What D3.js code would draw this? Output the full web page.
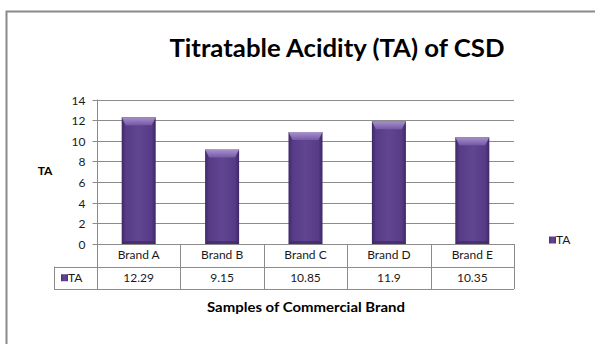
<!DOCTYPE html>
<html>
<head>
<meta charset="utf-8">
<script src="https://cdn.jsdelivr.net/npm/d3@7"></script>
<style>
  html, body { margin: 0; padding: 0; background: #fff; }
  svg { display: block; font-family: Lato, "Open Sans", "Liberation Sans", sans-serif; }
</style>
</head>
<body>
<svg id="chart" width="595" height="344"></svg>
<script>
// Titratable acidity per brand
const brands = ["Brand A", "Brand B", "Brand C", "Brand D", "Brand E"];
const taValues = [12.29, 9.15, 10.85, 11.9, 10.35];
const seriesName = "TA";
const yTicks = [0, 2, 4, 6, 8, 10, 12, 14];

const svg = d3.select("#chart");
const W = 595, H = 344;

// layout
const plot = { left: 97, right: 514, top: 99.5, bottom: 244 };
const rowH = 22.5;
const keyLeft = 54;
const gridColor = "#8c8c8c";
const textColor = "#1a1a1a";

// chart frame (extends past the visible area right and bottom)
svg.append("rect")
  .attr("x", 6.5).attr("y", 11.5)
  .attr("width", W + 20).attr("height", H + 20)
  .attr("fill", "none").attr("stroke", "#8a8a8a").attr("stroke-width", 2);

const x = d3.scaleBand().domain(brands).range([plot.left, plot.right]).paddingInner(0).paddingOuter(0);
const y = d3.scaleLinear().domain([0, 14]).range([plot.bottom, plot.top]);

// gradients for bars
const defs = svg.append("defs");
const g1 = defs.append("linearGradient").attr("id", "barBody").attr("x1", "0").attr("x2", "1").attr("y1", "0").attr("y2", "0");
g1.append("stop").attr("offset", "0").attr("stop-color", "#3e2866");
g1.append("stop").attr("offset", "0.12").attr("stop-color", "#573b86");
g1.append("stop").attr("offset", "0.5").attr("stop-color", "#604592");
g1.append("stop").attr("offset", "0.88").attr("stop-color", "#573b86");
g1.append("stop").attr("offset", "1").attr("stop-color", "#3e2866");
const g2 = defs.append("linearGradient").attr("id", "barTop").attr("x1", "0").attr("x2", "0").attr("y1", "0").attr("y2", "1");
g2.append("stop").attr("offset", "0").attr("stop-color", "#a892cc");
g2.append("stop").attr("offset", "1").attr("stop-color", "#7559a6");

// gridlines
svg.append("g").selectAll("line").data(yTicks).join("line")
  .attr("x1", plot.left).attr("x2", plot.right)
  .attr("y1", d => Math.round(y(d)) + 0.5).attr("y2", d => Math.round(y(d)) + 0.5)
  .attr("stroke", gridColor).attr("stroke-width", 1);

// y axis
const yAxis = d3.axisLeft(y).tickValues(yTicks).tickSize(5).tickPadding(7).tickFormat(d3.format("d"));
const ya = svg.append("g").attr("transform", `translate(${plot.left + 0.5},0)`).call(yAxis);
ya.select(".domain").attr("stroke", gridColor).attr("d", `M0,${plot.top}V${plot.bottom + 2 * rowH}`);
ya.selectAll(".tick line").attr("stroke", gridColor);
ya.selectAll(".tick").attr("transform", d => `translate(0,${Math.round(y(d)) + 0.5})`);
ya.selectAll("text").attr("font-size", 12).attr("fill", textColor).attr("dy", "0.35em")
  .style("font-family", "Lato, 'Open Sans', sans-serif");

// bars with bevelled top
const bw = 34;
const bev = 8;
const bars = svg.append("g").selectAll("g").data(brands).join("g");
bars.append("rect")
  .attr("x", d => x(d) + x.bandwidth() / 2 - bw / 2)
  .attr("y", (d, i) => y(taValues[i]))
  .attr("width", bw)
  .attr("height", (d, i) => y(0) - y(taValues[i]))
  .attr("fill", "url(#barBody)");
bars.append("path")
  .attr("d", (d, i) => {
    const l = x(d) + x.bandwidth() / 2 - bw / 2, r = l + bw, t = y(taValues[i]);
    return `M${l},${t}L${r},${t}L${r - 4},${t + bev}L${l + 4},${t + bev}Z`;
  })
  .attr("fill", "url(#barTop)");
bars.append("path")
  .attr("d", (d, i) => {
    const l = x(d) + x.bandwidth() / 2 - bw / 2, r = l + bw, b = y(0);
    return `M${l},${b}L${r},${b}L${r - 3},${b - 3}L${l + 3},${b - 3}Z`;
  })
  .attr("fill", "#3a2560").attr("opacity", 0.6);

// data table under the axis
const table = svg.append("g");
const tTop = plot.bottom;
[[plot.left, tTop], [keyLeft, tTop + rowH], [keyLeft, tTop + 2 * rowH]].forEach(([x0, yy]) => {
  table.append("line").attr("x1", x0).attr("x2", plot.right)
    .attr("y1", Math.round(yy) + 0.5).attr("y2", Math.round(yy) + 0.5)
    .attr("stroke", gridColor);
});
const colEdges = brands.map(b => x(b) + x.bandwidth());
table.selectAll("line.v").data(colEdges).join("line").attr("class", "v")
  .attr("x1", d => Math.round(d) + 0.5).attr("x2", d => Math.round(d) + 0.5)
  .attr("y1", tTop).attr("y2", tTop + 2 * rowH)
  .attr("stroke", gridColor);
table.append("line")
  .attr("x1", keyLeft + 0.5).attr("x2", keyLeft + 0.5)
  .attr("y1", tTop + rowH).attr("y2", tTop + 2 * rowH).attr("stroke", gridColor);

table.selectAll("text.cat").data(brands).join("text").attr("class", "cat")
  .attr("x", d => x(d) + x.bandwidth() / 2).attr("y", tTop + rowH / 2)
  .attr("dy", "0.35em").attr("text-anchor", "middle")
  .attr("font-size", 12).attr("fill", textColor).text(d => d);
table.selectAll("text.val").data(taValues).join("text").attr("class", "val")
  .attr("x", (d, i) => x(brands[i]) + x.bandwidth() / 2).attr("y", tTop + rowH * 1.5)
  .attr("dy", "0.35em").attr("text-anchor", "middle")
  .attr("font-size", 12).attr("fill", textColor).text(d => d);

// legend key: swatch + series name
function legendKey(g, x0, yc) {
  g.append("rect").attr("x", x0).attr("y", yc - 3.5).attr("width", 7).attr("height", 7).attr("fill", "url(#barBody)");
  g.append("text").attr("x", x0 + 7).attr("y", yc).attr("dy", "0.35em")
    .attr("font-size", 12).attr("fill", textColor).text(seriesName);
}
legendKey(table, 61, tTop + rowH * 1.5);

// legend to the right of the plot
legendKey(svg.append("g"), 549, 240);

// titles
svg.append("text").attr("x", 337).attr("y", 57).attr("text-anchor", "middle")
  .attr("font-size", 24).attr("font-weight", "bold").attr("fill", "#000")
  .attr("textLength", 335).attr("lengthAdjust", "spacingAndGlyphs")
  .text("Titratable Acidity (TA) of CSD");
svg.append("text").attr("x", 45).attr("y", 175).attr("text-anchor", "middle")
  .attr("font-size", 12).attr("font-weight", "bold").attr("fill", "#000").text("TA");
svg.append("text").attr("x", 306).attr("y", 312).attr("text-anchor", "middle")
  .attr("font-size", 13).attr("font-weight", "bold").attr("fill", "#000")
  .attr("textLength", 198).attr("lengthAdjust", "spacingAndGlyphs")
  .text("Samples of Commercial Brand");
</script>
</body>
</html>
